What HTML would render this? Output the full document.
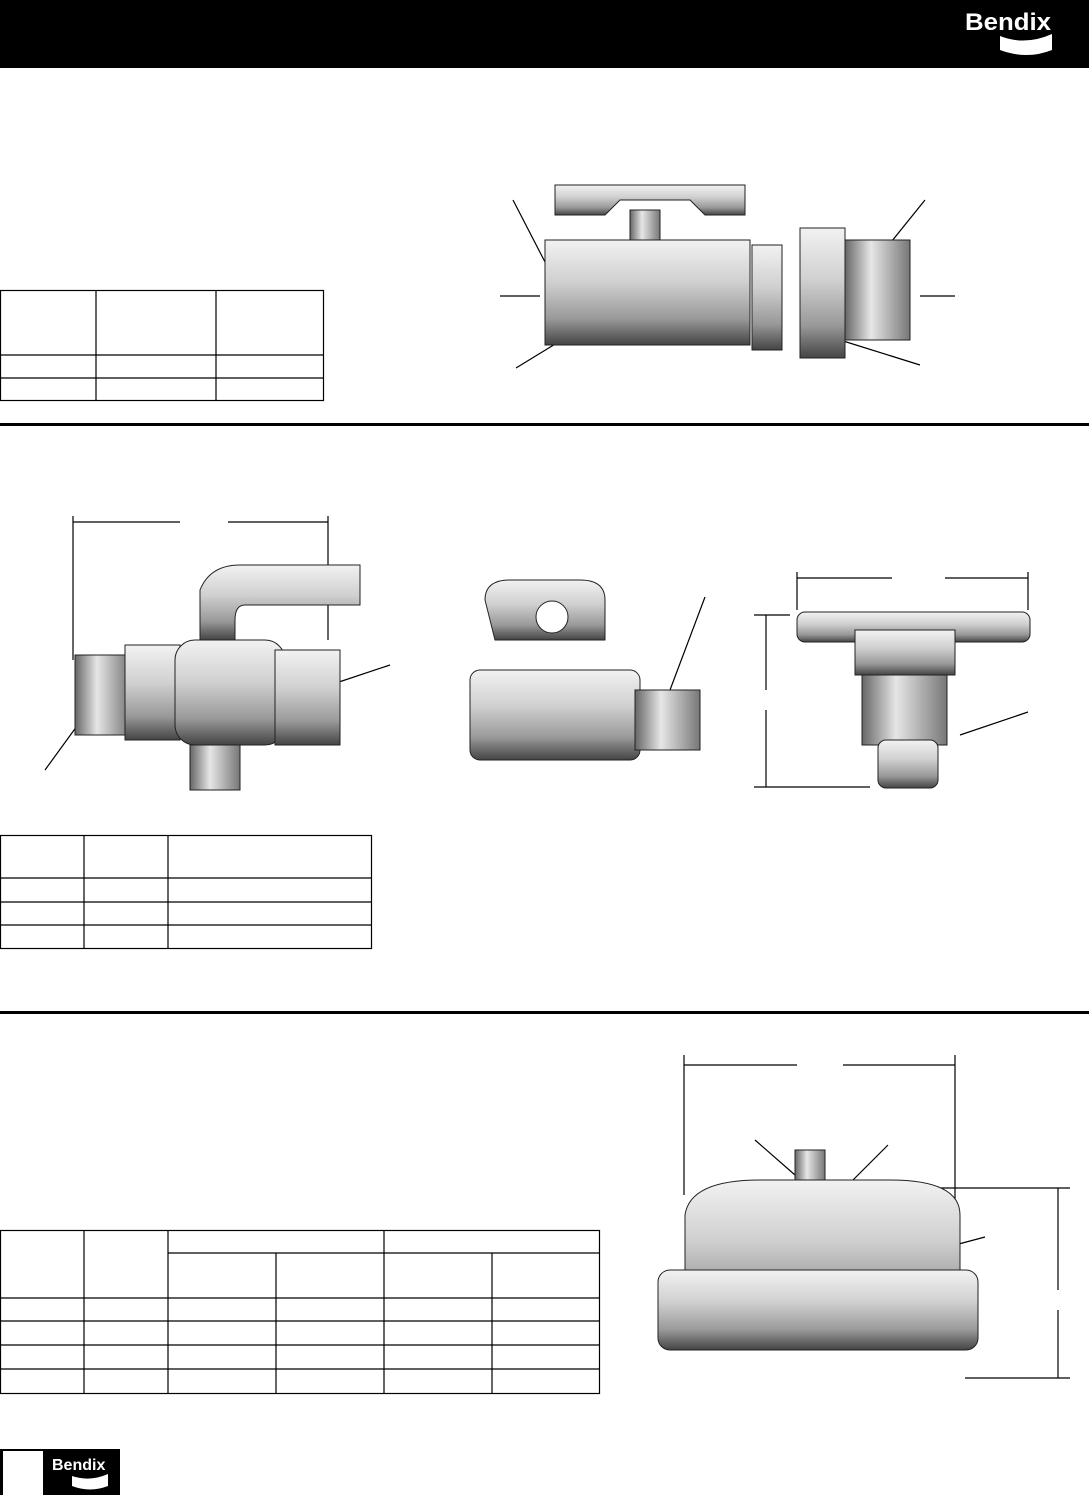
<!DOCTYPE html>
<html><head><style>
body{margin:0;width:1089px;height:1495px;background:#fff;position:relative;overflow:hidden;font-family:"Liberation Sans",sans-serif}
svg{position:absolute;left:0;top:0}
</style></head><body>
<svg width="1089" height="1495" viewBox="0 0 1089 1495">
<defs>
<linearGradient id="m" x1="0" y1="0" x2="0" y2="1"><stop offset="0" stop-color="#f2f2f2"/><stop offset=".4" stop-color="#d0d0d0"/><stop offset=".75" stop-color="#999"/><stop offset="1" stop-color="#444"/></linearGradient>
<linearGradient id="h" x1="0" y1="0" x2="1" y2="0"><stop offset="0" stop-color="#666"/><stop offset=".4" stop-color="#e6e6e6"/><stop offset="1" stop-color="#777"/></linearGradient>
</defs>
<rect x="0" y="0" width="1089" height="68" fill="#000"/>
<text x="965" y="30" fill="#fff" font-size="24" font-weight="bold" font-family="Liberation Sans" textLength="86" lengthAdjust="spacingAndGlyphs">Bendix</text>
<path d="M1000 36 q25 10 52 -2 v16 q-25 10 -52 0z" fill="#fff"/>
<g stroke="#000" fill="none" stroke-width="1.2">
<rect x="0.5" y="290.5" width="323" height="110"/><line x1="96" y1="290" x2="96" y2="400"/><line x1="216" y1="290" x2="216" y2="400"/><line x1="0" y1="355" x2="323" y2="355"/><line x1="0" y1="378" x2="323" y2="378"/>
<rect x="0.5" y="835.5" width="371" height="113"/><line x1="84" y1="835" x2="84" y2="948"/><line x1="168" y1="835" x2="168" y2="948"/><line x1="0" y1="878" x2="371" y2="878"/><line x1="0" y1="902" x2="371" y2="902"/><line x1="0" y1="925" x2="371" y2="925"/>
<rect x="0.5" y="1230.5" width="599" height="163"/>
<line x1="84" y1="1230" x2="84" y2="1393"/><line x1="168" y1="1230" x2="168" y2="1393"/><line x1="384" y1="1230" x2="384" y2="1393"/><line x1="276" y1="1253" x2="276" y2="1393"/><line x1="492" y1="1253" x2="492" y2="1393"/>
<line x1="168" y1="1253" x2="599" y2="1253"/><line x1="0" y1="1298" x2="599" y2="1298"/><line x1="0" y1="1321" x2="599" y2="1321"/><line x1="0" y1="1345" x2="599" y2="1345"/><line x1="0" y1="1369" x2="599" y2="1369"/>
<path d="M513 200 L545 262 M500 296 H540 M516 368 L570 335 M925 200 L875 262 M920 296 H955 M920 365 L840 340"/>
<path d="M73 522 H180 M228 522 H328 M73 516 V660 M328 516 V640 M390 665 L330 685 M45 770 L85 715"/>
<path d="M705 597 L670 690 M797 578 H892 M945 578 H1028 M797 572 V610 M1028 572 V610 M754 615 H790 M766 615 V690 M766 710 V787 M754 787 H870 M1028 712 L960 735"/>
<path d="M684 1065 H797 M843 1065 H955 M684 1055 V1195 M955 1055 V1215 M755 1140 L795 1175 M888 1145 L845 1188 M985 1237 L955 1245 M895 1188 H1070 M1058 1188 V1290 M1058 1310 V1378 M965 1378 H1070"/>
</g>
<rect x="0" y="423" width="1089" height="3" fill="#000"/>
<rect x="0" y="1011" width="1089" height="3" fill="#000"/>
<path d="M555 185 H745 V215 H705 L690 200 H620 L605 215 H555z" fill="url(#m)" stroke="#222"/>
<rect x="630" y="210" width="30" height="50" fill="url(#h)" stroke="#222"/>
<rect x="545" y="240" width="205" height="105" fill="url(#m)" stroke="#222"/>
<rect x="752" y="245" width="30" height="105" fill="url(#m)" stroke="#222"/>
<rect x="800" y="228" width="45" height="130" fill="url(#m)" stroke="#222"/>
<rect x="845" y="240" width="65" height="100" fill="url(#h)" stroke="#222"/>
<path d="M200 640 V590 Q210 565 240 565 H360 V605 H245 Q235 605 235 620 V640z" fill="url(#m)" stroke="#222"/>
<rect x="75" y="655" width="55" height="80" fill="url(#h)" stroke="#222"/>
<rect x="125" y="645" width="55" height="95" fill="url(#m)" stroke="#222"/>
<rect x="175" y="640" width="110" height="105" rx="20" fill="url(#m)" stroke="#222"/>
<rect x="275" y="650" width="65" height="95" fill="url(#m)" stroke="#222"/>
<rect x="190" y="745" width="50" height="45" fill="url(#h)" stroke="#222"/>
<path d="M485 600 Q485 580 510 580 H580 Q605 580 605 600 V640 H495z" fill="url(#m)" stroke="#222"/>
<circle cx="552" cy="617" r="16" fill="#fff" stroke="#222"/>
<rect x="470" y="670" width="170" height="90" rx="10" fill="url(#m)" stroke="#222"/>
<rect x="635" y="690" width="65" height="60" fill="url(#h)" stroke="#222"/>
<rect x="797" y="612" width="233" height="30" rx="8" fill="url(#m)" stroke="#222"/>
<rect x="855" y="630" width="100" height="45" fill="url(#m)" stroke="#222"/>
<rect x="862" y="675" width="85" height="70" fill="url(#h)" stroke="#222"/>
<rect x="878" y="740" width="60" height="48" rx="8" fill="url(#m)" stroke="#222"/>
<rect x="795" y="1150" width="30" height="45" fill="url(#h)" stroke="#222"/>
<path d="M685 1215 Q690 1180 760 1180 H890 Q960 1180 960 1215 V1330 H685z" fill="url(#m)" stroke="#222"/>
<rect x="658" y="1270" width="320" height="80" rx="12" fill="url(#m)" stroke="#222"/>
<rect x="0" y="1449" width="120" height="46" fill="#000"/>
<rect x="3" y="1451" width="40" height="44" fill="#fff"/>
<text x="52" y="1470" fill="#fff" font-size="16" font-weight="bold">Bendix</text>
<path d="M72 1476 q18 6 36 -2 v12 q-18 7 -36 0z" fill="#fff"/>
</svg>
</body></html>
